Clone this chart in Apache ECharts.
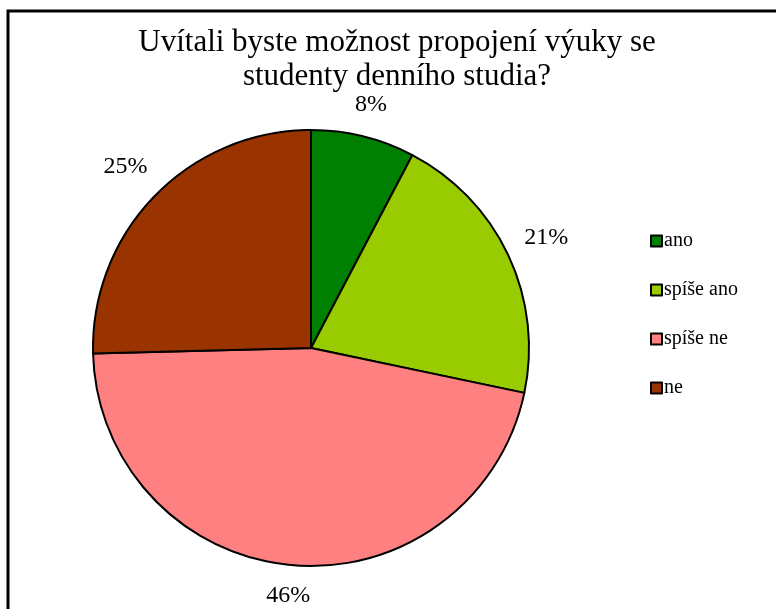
<!DOCTYPE html>
<html>
<head>
    <meta charset="utf-8">
    <script src="https://cdn.jsdelivr.net/npm/echarts@6/dist/echarts.min.js"></script>
    <style>
        html, body { margin: 0; padding: 0; background: #ffffff; }
    </style>
</head>
<body>
    <div id="main" style="width: 776px;height:609px;"></div>
    <script type="text/javascript">
        var myChart = echarts.init(document.getElementById('main'));

        // data
        var titleText = 'Uvítali byste možnost propojení výuky se\nstudenty denního studia?';
        var categories = ['ano', 'spíše ano', 'spíše ne', 'ne'];
        var values = [7.7, 20.6, 46.3, 25.4];
        var colors = ['#008000', '#99CC00', '#FF8080', '#993300'];

        var pieCenter = [311, 348];
        var pieRadius = 218;
        var labelGap = 17;

        var data = categories.map(function (name, i) {
            return { name: name, value: values[i], itemStyle: { color: colors[i] } };
        });

        // push each label out so its box sits a fixed gap outside the pie edge (like "outside end")
        function outsideEnd(p) {
            var r = p.labelRect;
            var cx = r.x + r.width / 2, cy = r.y + r.height / 2;
            var dx = cx - pieCenter[0], dy = cy - pieCenter[1];
            var d = Math.sqrt(dx * dx + dy * dy) || 1;
            var ux = dx / d, uy = dy / d;
            var half = Math.abs(ux) * r.width / 2 + Math.abs(uy) * r.height / 2;
            var t = pieRadius + labelGap + half;
            return {
                x: pieCenter[0] + ux * t,
                y: pieCenter[1] + uy * t,
                align: 'center',
                verticalAlign: 'middle'
            };
        }

        var option = {
            backgroundColor: '#ffffff',
            animation: false,
            title: {
                text: titleText,
                left: 392,
                top: 21,
                textAlign: 'center',
                textStyle: {
                    fontFamily: 'Liberation Serif',
                    fontSize: 31,
                    fontWeight: 'normal',
                    color: '#000000',
                    lineHeight: 34
                }
            },
            legend: {
                orient: 'vertical',
                left: 645,
                top: 226,
                data: categories,
                icon: 'rect',
                itemWidth: 11,
                itemHeight: 11,
                itemGap: 29,
                itemStyle: { borderColor: '#000000', borderWidth: 2 },
                textStyle: {
                    fontFamily: 'Liberation Serif',
                    fontSize: 20,
                    color: '#000000',
                    lineHeight: 20,
                    padding: [0, 0, 0, -3]
                }
            },
            graphic: [{
                type: 'rect',
                shape: { x: 8, y: 11, width: 800, height: 700 },
                style: { fill: 'none', stroke: '#000000', lineWidth: 3 },
                silent: true
            }],
            series: [
                {
                    type: 'pie',
                    center: pieCenter,
                    radius: pieRadius,
                    startAngle: 90,
                    clockwise: true,
                    label: { show: false },
                    labelLine: { show: false },
                    itemStyle: { borderColor: '#000000', borderWidth: 2 },
                    emphasis: { disabled: true },
                    data: data
                },
                {
                    // transparent ring that only carries the percentage labels
                    type: 'pie',
                    center: pieCenter,
                    radius: [240, 260],
                    startAngle: 90,
                    clockwise: true,
                    silent: true,
                    itemStyle: { color: 'rgba(0,0,0,0)', borderWidth: 0 },
                    label: {
                        show: true,
                        position: 'inside',
                        formatter: function (p) { return Math.round(p.percent) + '%'; },
                        fontFamily: 'Liberation Serif',
                        fontSize: 24,
                        color: '#000000'
                    },
                    labelLine: { show: false },
                    labelLayout: outsideEnd,
                    emphasis: { disabled: true },
                    data: categories.map(function (name, i) {
                        return { name: name, value: values[i] };
                    })
                }
            ]
        };

        myChart.setOption(option);
    </script>
</body>
</html>
